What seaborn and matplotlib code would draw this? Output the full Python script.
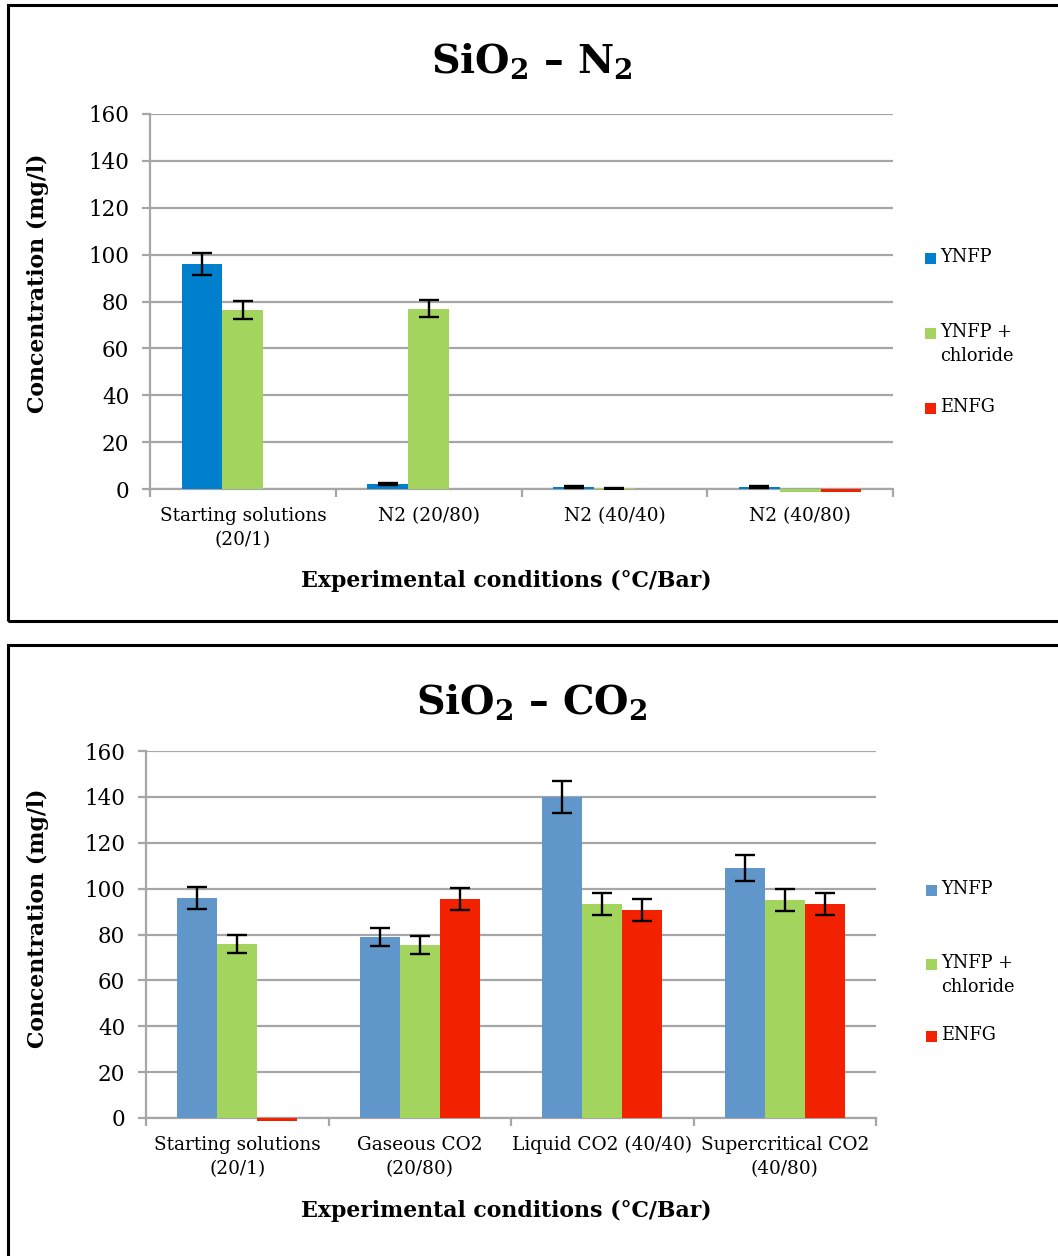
import numpy as np
import pandas as pd
import seaborn as sns
import matplotlib
matplotlib.use("Agg")
import matplotlib.pyplot as plt
from matplotlib.patches import Rectangle

# Series and legend entries
series = ["YNFP", "YNFP + chloride", "ENFG"]
legend_labels = ["YNFP", "YNFP +\nchloride", "ENFG"]

# SiO2 - N2 experiment
n2_conditions = ["Starting solutions\n(20/1)", "N2 (20/80)", "N2 (40/40)", "N2 (40/80)"]
n2_ynfp = [96.0, 2.0, 1.0, 1.0]
n2_ynfp_err = [4.8, 0.4, 0.4, 0.4]
n2_chloride = [76.3, 77.0, 0.3, -1.2]
n2_chloride_err = [3.8, 3.8, 0.15, 0.0]
n2_enfg = [0.0, 0.0, 0.0, -1.2]
n2_enfg_err = [0.0, 0.0, 0.0, 0.0]

# SiO2 - CO2 experiment
co2_conditions = ["Starting solutions\n(20/1)", "Gaseous CO2\n(20/80)",
                  "Liquid CO2 (40/40)", "Supercritical CO2\n(40/80)"]
co2_ynfp = [96.0, 79.0, 140.0, 109.0]
co2_ynfp_err = [4.8, 4.0, 7.0, 5.6]
co2_chloride = [76.0, 75.5, 93.2, 95.1]
co2_chloride_err = [4.0, 4.0, 4.8, 4.8]
co2_enfg = [-1.3, 95.5, 90.7, 93.2]
co2_enfg_err = [0.0, 4.9, 4.6, 4.7]

n2_colors = ["#0080CC", "#A2D45E", "#F22200"]
co2_colors = ["#6096C9", "#A2D45E", "#F22200"]

sns.set_theme(style="white")
plt.rcParams["font.family"] = ["DejaVu Serif"]
plt.rcParams["text.color"] = "black"
plt.rcParams["xtick.labelcolor"] = "black"
plt.rcParams["ytick.labelcolor"] = "black"
plt.rcParams["mathtext.fontset"] = "custom"
plt.rcParams["mathtext.rm"] = "DejaVu Serif:bold"
plt.rcParams["mathtext.bf"] = "DejaVu Serif:bold"

W, H = 1058, 1256
fig = plt.figure(figsize=(W / 100, H / 100), dpi=100)
fig.patch.set_facecolor("white")

GRID = "#a6a6a6"


def fx(px):
    return px / W


def fy(py):
    return 1 - py / H


def draw_panel(rect, conditions, values, errors, colors, title, title_y,
               xlabel_y, ylabel_x, ylabel_y, legend_x, legend_rows):
    ax = fig.add_axes(rect)
    rows = []
    for s, vals in zip(series, values):
        for c, v in zip(conditions, vals):
            rows.append({"condition": c, "series": s, "value": v})
    df = pd.DataFrame(rows)
    sns.barplot(data=df, x="condition", y="value", hue="series",
                order=conditions, hue_order=series, palette=colors,
                width=0.66, errorbar=None, saturation=1, linewidth=0,
                legend=False, ax=ax, zorder=3)
    for cont, errs in zip(ax.containers, errors):
        for bar, e in zip(cont, errs):
            bar.set_clip_on(False)
            if e > 0:
                xc = bar.get_x() + bar.get_width() / 2
                top = bar.get_y() + bar.get_height()
                ax.errorbar(xc, top, yerr=e, color="black", capsize=7,
                            elinewidth=1.7, capthick=1.7, zorder=4)
    ax.set_xlim(-0.5, len(conditions) - 0.5)
    ax.set_ylim(0, 160)
    ax.set_yticks(np.arange(0, 161, 20))
    ax.yaxis.grid(True, color=GRID, linewidth=1.6)
    ax.xaxis.grid(False)
    ax.set_axisbelow(True)
    for side in ["top", "right"]:
        ax.spines[side].set_visible(False)
    for side in ["left", "bottom"]:
        ax.spines[side].set_color(GRID)
        ax.spines[side].set_linewidth(1.6)
    ax.set_xticks(np.arange(-0.5, len(conditions), 1.0), minor=True)
    ax.tick_params(axis="x", which="major", length=0, pad=13, labelsize=13.3,
                   labelcolor="black")
    ax.tick_params(axis="x", which="minor", length=6, width=1.6, color=GRID,
                   direction="out", bottom=True)
    ax.tick_params(axis="y", length=6, width=1.6, color=GRID, direction="out",
                   left=True, pad=9, labelsize=15.5, labelcolor="black")
    for lab in ax.get_xticklabels():
        lab.set_linespacing(1.45)
    ax.set_xlabel("")
    ax.set_ylabel("")

    fig.text(fx(532), fy(title_y), title, ha="center", va="center",
             fontsize=28.5, fontweight="bold", color="black")
    fig.text(fx(506), fy(xlabel_y), "Experimental conditions (°C/Bar)",
             ha="center", va="center", fontsize=15.8, fontweight="bold",
             color="black")
    fig.text(fx(ylabel_x), fy(ylabel_y), "Concentration (mg/l)",
             ha="center", va="center", rotation=90, fontsize=15.8,
             fontweight="bold", color="black")

    for lab, col, ty in zip(legend_labels, colors, legend_rows):
        fig.patches.append(Rectangle((fx(legend_x), fy(ty + 6)), fx(11), 11 / H,
                                     transform=fig.transFigure,
                                     facecolor=col, edgecolor="none"))
        fig.text(fx(legend_x + 15), fy(ty - 10), lab, ha="left", va="top",
                 fontsize=12.8, linespacing=1.4, color="black")
    return ax


# Panel frames
for top, bottom in [(5, 621), (645, 1262)]:
    fig.patches.append(Rectangle((fx(8), fy(bottom)), fx(1062), (bottom - top) / H,
                                 transform=fig.transFigure, facecolor="none",
                                 edgecolor="black", linewidth=2.2,
                                 clip_on=False))

draw_panel([fx(150), fy(489), fx(743), 375 / H], n2_conditions,
           [n2_ynfp, n2_chloride, n2_enfg],
           [n2_ynfp_err, n2_chloride_err, n2_enfg_err], n2_colors,
           r"SiO$_\mathbf{2}$ – N$_\mathbf{2}$", 62, 581, 38, 283, 925,
           [258, 333, 408])

draw_panel([fx(146), fy(1118), fx(730), 367 / H], co2_conditions,
           [co2_ynfp, co2_chloride, co2_enfg],
           [co2_ynfp_err, co2_chloride_err, co2_enfg_err], co2_colors,
           r"SiO$_\mathbf{2}$ – CO$_\mathbf{2}$", 703, 1211, 38, 918, 926,
           [890, 964, 1036])

fig.savefig("out.png", dpi=100, facecolor="white")
